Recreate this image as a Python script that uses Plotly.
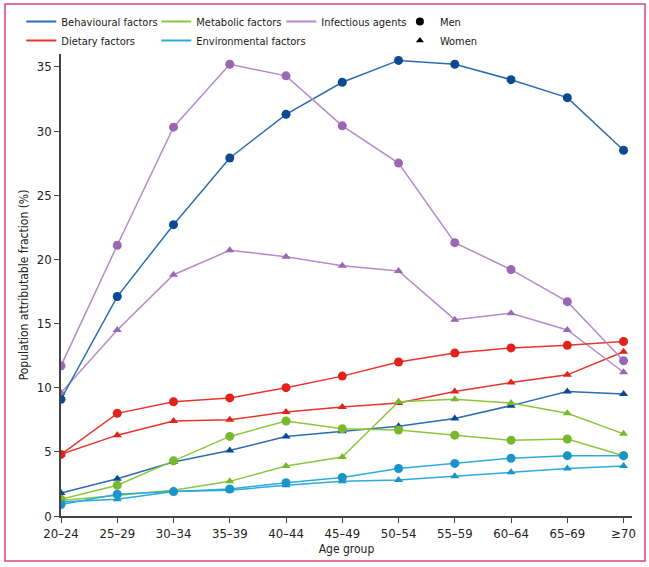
import plotly.graph_objects as go

# data
age_groups = ["20–24", "25–29", "30–34", "35–39", "40–44", "45–49",
              "50–54", "55–59", "60–64", "65–69", "≥70"]

behavioural_men = [9.1, 17.1, 22.7, 27.9, 31.3, 33.8, 35.5, 35.2, 34.0, 32.6, 28.5]
behavioural_women = [1.8, 2.9, 4.2, 5.1, 6.2, 6.6, 7.0, 7.6, 8.6, 9.7, 9.5]
dietary_men = [4.8, 8.0, 8.9, 9.2, 10.0, 10.9, 12.0, 12.7, 13.1, 13.3, 13.6]
dietary_women = [4.8, 6.3, 7.4, 7.5, 8.1, 8.5, 8.8, 9.7, 10.4, 11.0, 12.8]
metabolic_men = [1.3, 2.4, 4.3, 6.2, 7.4, 6.8, 6.7, 6.3, 5.9, 6.0, 4.7]
metabolic_women = [1.2, 1.6, 2.0, 2.7, 3.9, 4.6, 8.9, 9.1, 8.8, 8.0, 6.4]
environmental_men = [0.9, 1.7, 1.9, 2.1, 2.6, 3.0, 3.7, 4.1, 4.5, 4.7, 4.7]
environmental_women = [1.1, 1.3, 1.9, 2.0, 2.4, 2.7, 2.8, 3.1, 3.4, 3.7, 3.9]
infectious_men = [11.7, 21.1, 30.3, 35.2, 34.3, 30.4, 27.5, 21.3, 19.2, 16.7, 12.1]
infectious_women = [9.6, 14.5, 18.8, 20.7, 20.2, 19.5, 19.1, 15.3, 15.8, 14.5, 11.2]

FONT = "Liberation Sans Narrow, DejaVu Sans Condensed, Arial Narrow, sans-serif"

# name, men, women, line colour, marker colour, legend id
series = [
    ("Behavioural factors", behavioural_men, behavioural_women, "#2b6cb0", "#0b4a93", "legend"),
    ("Dietary factors", dietary_men, dietary_women, "#e8342c", "#e3221b", "legend"),
    ("Metabolic factors", metabolic_men, metabolic_women, "#8cc63f", "#79b82c", "legend2"),
    ("Environmental factors", environmental_men, environmental_women, "#2eaadb", "#1a95c7", "legend2"),
    ("Infectious agents", infectious_men, infectious_women, "#b58bc9", "#9a68b2", "legend3"),
]

fig = go.Figure()

# women first so men's circles sit on top
for name, men, women, lc, mc, lg in series:
    fig.add_trace(go.Scatter(
        x=age_groups, y=women, mode="lines+markers",
        line=dict(color=lc, width=1.5),
        marker=dict(symbol="triangle-up", size=8, color=mc),
        showlegend=False, name=name + " (women)"
    ))
for name, men, women, lc, mc, lg in series:
    fig.add_trace(go.Scatter(
        x=age_groups, y=men, mode="lines+markers",
        line=dict(color=lc, width=1.5),
        marker=dict(symbol="circle", size=9, color=mc),
        showlegend=False, name=name + " (men)"
    ))

# legend entries
for name, men, women, lc, mc, lg in series:
    fig.add_trace(go.Scatter(
        x=[None], y=[None], mode="lines", name=name,
        line=dict(color=lc, width=2), legend=lg
    ))
fig.add_trace(go.Scatter(x=[None], y=[None], mode="markers", name="Men",
                         marker=dict(symbol="circle", size=8, color="black"), legend="legend4"))
fig.add_trace(go.Scatter(x=[None], y=[None], mode="markers", name="Women",
                         marker=dict(symbol="triangle-up", size=7, color="black"), legend="legend4"))

# the paper reaches up to the frame, the y axis only uses its lower part,
# so the legends stay inside the paper and do not push the margins
leg_common = dict(font=dict(family=FONT, size=11, color="#1a1a1a"), bgcolor="rgba(0,0,0,0)",
                  yanchor="top", y=0.994, xanchor="left", tracegroupgap=0,
                  itemwidth=30)
fig.update_layout(
    legend=dict(x=-0.0695, **leg_common),
    legend2=dict(x=0.1669, **leg_common),
    legend3=dict(x=0.3858, **leg_common),
    legend4=dict(x=0.5935, **leg_common),
)

fig.update_xaxes(
    type="category", range=[0, 10.15],
    showline=True, linecolor="#444", linewidth=1.5,
    ticks="outside", ticklen=5, tickcolor="#444",
    showgrid=False, zeroline=False,
    tickfont=dict(family=FONT, size=13, color="#222"),
    title=dict(text="Age group", font=dict(family=FONT, size=12, color="#222"), standoff=4),
)
fig.update_yaxes(
    range=[0, 36], tickvals=[0, 5, 10, 15, 20, 25, 30, 35],
    domain=[0, 462 / 512],
    showline=True, linecolor="#444", linewidth=1.5,
    ticks="outside", ticklen=5, tickcolor="#444",
    showgrid=False, zeroline=False,
    tickfont=dict(family=FONT, size=13, color="#222"),
    title=dict(text="Population attributable fraction (%)",
               font=dict(family=FONT, size=12, color="#222"), standoff=6),
)

# pink frame around the whole figure
fig.add_shape(type="rect", xref="paper", yref="paper",
              x0=(5 - 61) / 571, x1=(645 - 61) / 571,
              y0=-(561 - 516) / 512, y1=1,
              line=dict(color="#d84a72", width=1.5), layer="below")

fig.update_layout(
    width=649, height=567,
    margin=dict(l=61, r=17, t=4, b=51),
    plot_bgcolor="white", paper_bgcolor="white",
    font=dict(family=FONT),
)

# drop the default page margin so the figure sits at the window corner
fig.write_html("out.html", config={"displayModeBar": False},
               post_script="document.body.style.margin='0';")
